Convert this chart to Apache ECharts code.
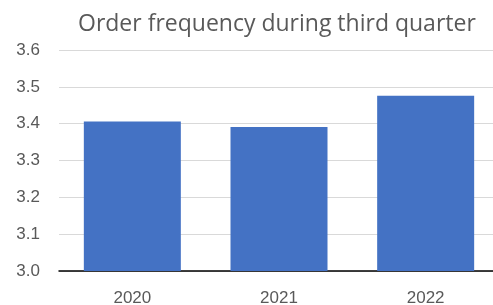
<!DOCTYPE html>
<html>
<head>
<meta charset="utf-8">
<script src="https://cdn.jsdelivr.net/npm/echarts@6/dist/echarts.min.js"></script>
<style>
  html, body { margin: 0; padding: 0; background: #fff; }
  #chart { width: 493px; height: 305px; }
</style>
</head>
<body>
<div id="chart"></div>
<script>
const years = ['2020', '2021', '2022'];
const orderFreq = [3.406, 3.391, 3.476];
const yTicks = { min: 3.0, max: 3.6, step: 0.1 };

const chart = echarts.init(document.getElementById('chart'));

const option = {
  backgroundColor: '#fff',
  animation: false,
  title: {
    text: 'Order frequency during third quarter',
    left: 78,
    top: 13,
    padding: 0,
    textStyle: {
      color: '#595959',
      fontFamily: 'Open Sans',
      fontSize: 23,
      fontWeight: 'normal'
    }
  },
  grid: {
    left: 59,
    top: 50,
    width: 440,
    height: 221,
    outerBoundsMode: 'none'
  },
  xAxis: {
    type: 'category',
    data: years,
    axisTick: { show: false },
    axisLine: { lineStyle: { color: '#000', width: 1.5 } },
    axisLabel: {
      color: '#595959',
      fontFamily: 'Liberation Sans',
      fontSize: 17,
      margin: 19
    }
  },
  yAxis: {
    type: 'value',
    min: yTicks.min,
    max: yTicks.max,
    interval: yTicks.step,
    axisLine: { show: false },
    axisTick: { show: false },
    axisLabel: {
      color: '#595959',
      fontFamily: 'Liberation Sans',
      fontSize: 17,
      margin: 19,
      formatter: v => v.toFixed(1)
    },
    splitLine: { lineStyle: { color: '#d9d9d9', width: 1 } }
  },
  series: [{
    type: 'bar',
    data: orderFreq,
    barWidth: 97,
    itemStyle: { color: '#4472c4' }
  }]
};

chart.setOption(option);
</script>
</body>
</html>
